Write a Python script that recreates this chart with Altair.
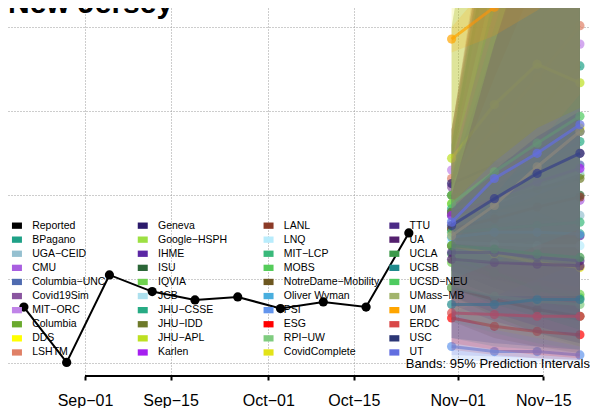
import altair as alt
import pandas as pd

# ---------------- data ----------------
report_dates = ["2020-08-22", "2020-08-29", "2020-09-05", "2020-09-12", "2020-09-19",
                "2020-09-26", "2020-10-03", "2020-10-10", "2020-10-17", "2020-10-24"]
report_values = [33.5, 0.5, 52.6, 42.7, 37.7, 39.5, 32.6, 36.5, 33.5, 77.6]

forecast_dates = ["2020-10-31", "2020-11-07", "2020-11-14", "2020-11-21"]

models = ["BPagano", "UGA−CEID", "CMU", "Columbia−UNC", "Covid19Sim", "MIT−ORC", "Columbia", "DDS", "LSHTM",
          "Geneva", "Google−HSPH", "IHME", "ISU", "IQVIA", "JCB", "JHU−CSSE", "JHU−IDD", "JHU−APL", "Karlen",
          "LANL", "LNQ", "MIT−LCP", "MOBS", "NotreDame−Mobility", "Oliver Wyman", "PSI", "ESG", "RPI−UW", "CovidComplete",
          "TTU", "UA", "UCLA", "UCSB", "UCSD−NEU", "UMass−MB", "UM", "ERDC", "USC", "UT"]
colors = ["#1fa187", "#95c0d0", "#a95fe0", "#4f6bb0", "#8a55a0", "#c084e8", "#6aaa2e", "#ffff00", "#e08066",
          "#2b1a6b", "#9de043", "#5b27a4", "#2b6637", "#6fd24f", "#ade0ee", "#27ab84", "#6e7a2a", "#bde021", "#a51ff0",
          "#8b3a27", "#b8ecfc", "#39b97a", "#55cc5a", "#6d5720", "#49aede", "#6395ed", "#ff0000", "#7fcc7f", "#e3e318",
          "#4b2b86", "#54206e", "#3d9a4a", "#1f8a8c", "#4ecb60", "#a2b46c", "#ffa500", "#d94848", "#2c3675", "#626ee0"]

# medians per forecast week (model order as above)
med_w1 = [100, 80, 90, 90, 105, 115, 100, 95, 110, 107, 80, 70, 88, 60, 85, 92, 90, 122, 88,
          80, 72, 78, 65, 45, 75, 10, 27, 45, 70, 66, 62, 70, 35, 95, 76, 193, 30, 82, 84]
med_w2 = [125, 82, 93, 100, 112, 140, 104, 110, 140, 118, 79, 72, 92, 52, 95, 105, 97, 154, 98,
          86, 71, 80, 54, 38, 78, 7, 22, 40, 65, 66, 60, 68, 35, 114, 94, 212, 29, 98, 110]
med_w3 = [150, 85, 95, 110, 118, 165, 108, 125, 170, 128, 78, 74, 96, 46, 105, 118, 104, 178, 108,
          93, 70, 82, 44, 32, 78, 7, 19, 37, 60, 63, 59, 65, 38, 131, 117, 235, 28, 113, 125]
med_w4 = [177, 88, 97, 118, 125, 190, 112, 140, 201, 138, 77, 76, 100, 41, 114, 132, 110, 167, 116,
          99, 70, 84, 39, 28, 77, 5, 17, 35, 57, 61, 58, 63, 38, 147, 138, 260, 28, 125, 142]

# 95% prediction interval bounds per week
lo_w1 = [60, 50, 55, 55, 60, 70, 60, 50, 70, 75, 50, 55, 55, 40, 55, 60, 50, 90, 60,
         55, 45, 50, 40, 25, 50, 2, 12, 25, 30, 40, 35, 45, 15, 60, 45, 185, 8, 15, 5]
lo_w2 = [55, 40, 45, 45, 50, 75, 50, 40, 75, 70, 40, 50, 45, 28, 50, 55, 40, 90, 55,
         50, 35, 40, 28, 15, 40, 1, 8, 18, 20, 30, 25, 35, 10, 60, 40, 195, 5, 12, 4]
lo_w3 = [50, 30, 35, 40, 45, 80, 40, 30, 80, 65, 32, 45, 38, 18, 45, 50, 30, 90, 50,
         45, 28, 32, 18, 10, 32, 1, 5, 12, 15, 22, 18, 28, 8, 60, 40, 210, 3, 10, 3]
lo_w4 = [45, 25, 30, 35, 40, 85, 35, 25, 85, 60, 25, 40, 30, 10, 40, 45, 25, 80, 45,
         40, 22, 25, 12, 6, 25, 1, 3, 8, 10, 15, 12, 20, 6, 60, 40, 230, 2, 8, 2]
hi_w1 = [135, 115, 125, 130, 139, 139, 135, 139, 139, 139, 120, 90, 130, 90, 120, 130, 200, 200, 120,
         110, 105, 115, 100, 75, 110, 30, 50, 75, 250, 100, 100, 110, 70, 139, 120, 200, 139, 92, 95]
hi_w2 = [280, 200, 240, 270, 290, 300, 280, 290, 300, 280, 230, 120, 270, 110, 230, 280, 350, 350, 210,
         190, 170, 200, 110, 90, 190, 40, 60, 90, 450, 190, 190, 220, 100, 290, 260, 230, 290, 115, 120]
hi_w3 = [380, 280, 330, 370, 390, 400, 380, 390, 400, 380, 320, 140, 370, 130, 320, 380, 450, 450, 290,
         260, 230, 280, 120, 100, 260, 50, 70, 100, 600, 270, 270, 310, 130, 390, 360, 260, 390, 135, 140]
hi_w4 = [480, 360, 420, 470, 490, 500, 480, 490, 500, 480, 410, 160, 470, 150, 410, 480, 550, 550, 370,
         330, 290, 360, 130, 110, 330, 60, 80, 110, 750, 350, 350, 400, 160, 490, 460, 290, 490, 150, 152]

tick_dates = ["2020-09-01", "2020-09-15", "2020-10-01", "2020-10-15", "2020-11-01", "2020-11-15"]
tick_labels = ["Sep−01", "Sep−15", "Oct−01", "Oct−15", "Nov−01", "Nov−15"]
y_grid = [0, 50, 100, 150, 200]

title_text = "New Jersey"
note_text = "Bands: 95% Prediction Intervals"

# ---------------- build tables ----------------
origin = pd.Timestamp("2020-09-01")


def day(d):
    return (pd.Timestamp(d) - origin).days


rep = pd.DataFrame({"day": [day(d) for d in report_dates], "value": report_values})

meds = [med_w1, med_w2, med_w3, med_w4]
los = [lo_w1, lo_w2, lo_w3, lo_w4]
his = [hi_w1, hi_w2, hi_w3, hi_w4]
rows = []
for i, m in enumerate(models):
    for w, d in enumerate(forecast_dates):
        rows.append({"model": m, "k": i, "day": day(d), "value": meds[w][i],
                     "lo": los[w][i], "hi": his[w][i]})
fc = pd.DataFrame(rows)

tick_days = [day(d) for d in tick_dates]
axis_df = pd.DataFrame({"x0": [min(tick_days)], "x1": [max(tick_days)]})

all_names = ["Reported"] + models
all_colors = ["#000000"] + colors

# ---------------- scales / axes ----------------
W, H = 582, 368
xscale = alt.Scale(domain=[-12.60, 82.65], nice=False, zero=False)
yscale = alt.Scale(domain=[-7.56, 211.5], nice=False, zero=False)

label_expr = "[" + ",".join("'" + t + "'" for t in tick_labels) + "][indexof([" + \
    ",".join(str(t) for t in tick_days) + "], datum.value)]"
xaxis = alt.Axis(values=tick_days, labelExpr=label_expr, grid=True, gridDash=[1, 2],
                 gridColor="#9a9a9a", gridWidth=1, domain=False, ticks=True, tickColor="black",
                 tickWidth=2, tickSize=4, labelFontSize=16, labelFont="Liberation Sans",
                 labelColor="black", labelPadding=12, title=None, labelFlush=False,
                 labelOverlap=False)
yaxis = alt.Axis(values=y_grid, grid=True, gridDash=[1, 2], gridColor="#9a9a9a", gridWidth=1,
                 labels=False, ticks=False, domain=False, title=None)

X = alt.X("day:Q", scale=xscale, axis=xaxis)
Y = alt.Y("value:Q", scale=yscale, axis=yaxis)

color_scale = alt.Scale(domain=all_names, range=all_colors)
legend = alt.Legend(orient="none", legendX=3.7, legendY=212.3, columns=4, gridAlign="all",
                    columnPadding=9.8, rowPadding=3.1, symbolType="M-1,-0.63H1V0.63H-1Z",
                    symbolSize=100, symbolStrokeWidth=0, symbolOpacity=1, labelFontSize=10.5,
                    labelFont="Liberation Sans", labelColor="black", labelOffset=10, title=None,
                    padding=0, labelLimit=300, symbolLimit=60, direction="vertical")

layers = []
# each model: band, then line, then points (later models cover earlier ones)
for i, (m, c) in enumerate(zip(models, colors)):
    base = alt.Chart(fc).transform_filter(alt.datum.k == i)
    layers.append(base.mark_area(opacity=0.18, clip=True, color=c).encode(
        x=X, y=alt.Y("lo:Q", scale=yscale, axis=yaxis), y2="hi:Q"))
    layers.append(base.mark_line(strokeWidth=3, opacity=0.7, clip=True, color=c).encode(x=X, y=Y))
    layers.append(base.mark_circle(size=85, opacity=0.7, clip=True, color=c).encode(x=X, y=Y))

legend_layer = alt.Chart(pd.DataFrame({"name": all_names})).mark_square(opacity=0, size=1).encode(
    color=alt.Color("name:N", scale=color_scale, legend=legend),
    x=alt.value(-50), y=alt.value(-50),
)

rep_line = alt.Chart(rep).mark_line(color="black", strokeWidth=2).encode(x=X, y=Y)
rep_pts = alt.Chart(rep).mark_circle(color="black", size=85, opacity=1).encode(x=X, y=Y)

axis_line = alt.Chart(axis_df).mark_rule(color="black", strokeWidth=2).encode(
    x=alt.X("x0:Q", scale=xscale, axis=xaxis), x2="x1:Q", y=alt.value(H)
)

title = alt.Chart(pd.DataFrame({"t": [title_text]})).mark_text(
    align="left", baseline="alphabetic", fontSize=30, fontWeight="bold", font="Liberation Sans",
    color="black"
).encode(text="t:N", x=alt.value(0), y=alt.value(5))

note = alt.Chart(pd.DataFrame({"t": [note_text]})).mark_text(
    align="right", baseline="alphabetic", fontSize=13, font="Liberation Sans", color="black"
).encode(text="t:N", x=alt.value(582), y=alt.value(360))

chart = alt.layer(*layers, legend_layer, rep_line, rep_pts, axis_line, title, note).properties(
    width=W, height=H,
    autosize=alt.AutoSizeParams(type="none"),
    padding={"left": 0, "top": 0, "right": 0, "bottom": 32},
    background="white",
).configure_view(strokeWidth=0)

chart.save("out.html", embed_options={"renderer": "svg", "actions": False})
